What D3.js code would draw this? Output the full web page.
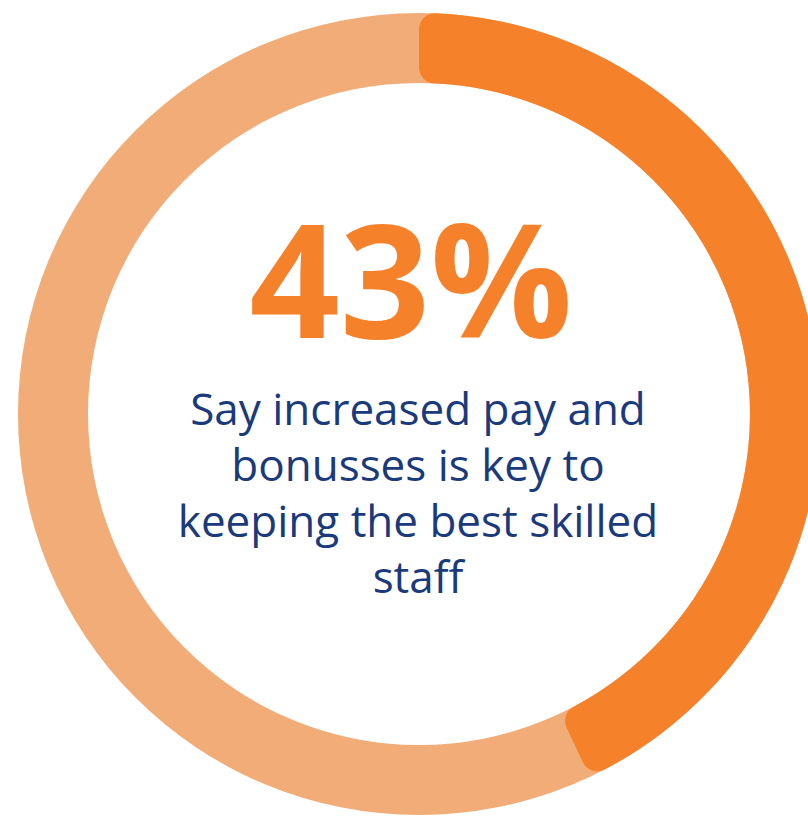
<!DOCTYPE html>
<html><head><meta charset="utf-8">
<script src="https://cdn.jsdelivr.net/npm/d3@7"></script>
<style>html,body{margin:0;padding:0;background:#fff;overflow:hidden}</style>
</head><body>
<svg id="chart" width="808" height="830"></svg>
<script>
const categories = ["Increased pay and bonuses", "Other"];
const values = [43, 57];
const headline = "43%";
const captionLines = ["Say increased pay and", "bonusses is key to", "keeping the best skilled", "staff"];
const colors = ["#F5812A", "#F1AC78"];

const svg = d3.select("#chart");
const cx = 419, cy = 414, outerR = 401, innerR = 331;
const g = svg.append("g").attr("transform", `translate(${cx},${cy})`);

// background ring (full)
g.append("path")
  .attr("d", d3.arc().innerRadius(innerR).outerRadius(outerR).startAngle(0).endAngle(2*Math.PI)())
  .attr("fill", colors[1]);

const pie = d3.pie().sort(null).value(d => d)(values);
const arc = d3.arc().innerRadius(innerR).outerRadius(outerR).cornerRadius(16);
g.append("path")
  .attr("d", arc(pie[0]))
  .attr("fill", colors[0]);

svg.append("text")
  .attr("x", 411).attr("y", 338)
  .attr("text-anchor", "middle")
  .attr("font-family", "Open Sans")
  .attr("font-weight", 700)
  .attr("font-size", 158)
  .attr("fill", colors[0])
  .text(headline);

const cap = svg.append("text")
  .attr("text-anchor", "middle")
  .attr("font-family", "Open Sans")
  .attr("font-size", 44)
  .attr("fill", "#1A3A7C");
captionLines.forEach((l, i) => {
  cap.append("tspan").attr("x", 418).attr("y", 425 + i * 56).text(l);
});
</script>
</body></html>
